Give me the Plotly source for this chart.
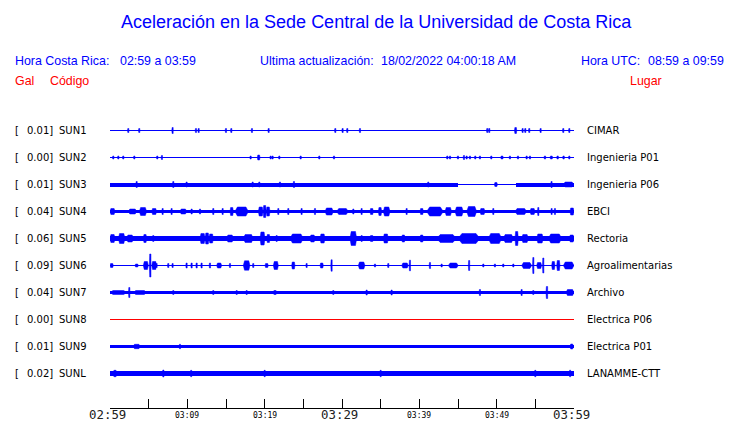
import plotly.graph_objects as go

# ---------------- data ----------------
STATIONS = ["SUN1", "SUN2", "SUN3", "SUN4", "SUN5", "SUN6", "SUN7", "SUN8", "SUN9", "SUNL"]
GAL = ["0.01", "0.00", "0.01", "0.04", "0.06", "0.09", "0.04", "0.00", "0.01", "0.02"]
PLACES = ["CIMAR", "Ingenieria P01", "Ingenieria P06", "EBCI", "Rectoria",
          "Agroalimentarias", "Archivo", "Electrica P06", "Electrica P01", "LANAMME-CTT"]
TRACE_COLORS = ["#0000ff"] * 7 + ["#ff0000"] + ["#0000ff"] * 2

# minutes after 02:59 for the axis ticks, and their labels
TICK_MIN = [0, 5, 10, 15, 20, 25, 30, 35, 40, 45, 50, 55, 60]
BIG_TICK_MIN = [0, 30, 60]
BIG_TICK_LABELS = ["02:59", "03:29", "03:59"]
SMALL_TICK_MIN = [10, 20, 40, 50]
SMALL_TICK_LABELS = ["03:09", "03:19", "03:39", "03:49"]

# band half-thickness (px) of each trace for 24 consecutive 2.5-minute segments
BAND_SUN1 = [0] * 24
BAND_SUN2 = [0] * 24
BAND_SUN3 = [2, 2, 2, 2, 2, 2, 2, 2, 2, 2, 2, 2, 2, 2, 2, 2, 2, 2, 0, 0, 0, 2, 2, 2]
BAND_SUN4 = [1.6, 1.5, 1.5, 1.5, 1.5, 1.5, 1.6, 1.6, 1.5, 1.5, 1.5, 1.5,
             1.5, 1.5, 1.6, 1.5, 1.6, 1.6, 1.6, 1.5, 1.5, 1.5, 1.5, 1.5]
BAND_SUN5 = [2.5, 2.4, 2.3, 2.3, 2.3, 2.4, 2.3, 2.4, 2.3, 2.4, 2.4, 2.3,
             2.3, 2.3, 2.3, 2.3, 2.5, 2.5, 2.5, 2.5, 2.4, 2.5, 2.5, 2.5]
BAND_SUN6 = [0] * 24
BAND_SUN7 = [1.8, 1.6, 1.5, 1.5, 1.5, 1.5, 1.5, 1.5, 1.5, 1.5, 1.5, 1.5,
             1.5, 1.5, 1.5, 1.5, 1.5, 1.5, 1.5, 1.5, 1.5, 1.5, 1.6, 1.6]
BAND_SUN8 = [0] * 24
BAND_SUN9 = [1.7] * 24
BAND_SUNL = [2.7, 2.8, 2.7, 2.7, 2.7, 2.7, 2.7, 2.7, 2.7, 2.7, 2.7, 2.7,
             2.7, 2.7, 2.7, 2.7, 2.7, 2.7, 2.7, 2.7, 2.7, 2.7, 2.7, 2.8]

# bursts: (start minute, end minute, half amplitude px)
BURST_SUN1 = [(2.37, 2.37, 2), (3.79, 3.79, 2), (8.10, 8.10, 3), (11.12, 11.12, 2),
              (11.47, 11.47, 2), (15.0, 15.0, 2), (15.69, 15.69, 2), (18.36, 18.36, 2),
              (20.52, 20.52, 2), (29.14, 29.14, 2), (30.0, 30.17, 2), (30.69, 30.69, 2),
              (32.33, 32.33, 2), (48.79, 48.79, 2), (49.05, 49.05, 2), (52.3, 52.6, 3),
              (53.36, 53.36, 2), (53.71, 53.71, 2), (54.22, 54.22, 2), (55.69, 55.69, 2),
              (58.62, 58.62, 2), (59.4, 59.4, 2)]
BURST_SUN2 = [(0.43, 0.43, 1.5), (1.08, 1.08, 1.5), (1.72, 1.72, 1.5), (3.15, 3.15, 1.5),
              (6.12, 6.12, 1.5), (6.72, 6.72, 2), (18.19, 18.19, 1.5), (19.05, 19.4, 2.5),
              (20.78, 20.78, 1.5), (21.03, 21.03, 1.5), (21.9, 21.9, 1.5), (24.66, 24.66, 1.5),
              (27.07, 27.07, 1.5), (28.97, 28.97, 1.5), (43.62, 43.62, 1.5), (43.97, 43.97, 1.5),
              (44.91, 45.09, 1.5), (45.69, 45.86, 2), (46.12, 46.12, 1.5), (46.55, 46.55, 1.5),
              (47.24, 47.24, 1.5), (47.84, 47.84, 1.5), (49.31, 49.31, 1.5), (50.52, 50.86, 1.5),
              (51.72, 51.72, 1.5), (52.76, 52.76, 1.5), (53.88, 53.88, 1.5), (54.31, 54.31, 1.5),
              (56.12, 56.38, 1.5), (56.9, 57.24, 1.5), (57.76, 58.02, 1.5), (58.53, 58.79, 1.5),
              (59.4, 59.4, 1.5)]
BURST_SUN3 = [(3.45, 3.45, 3), (8.19, 8.19, 3), (9.91, 9.91, 2.5), (18.45, 18.45, 2.5),
              (19.31, 19.31, 2.5), (21.98, 21.98, 2.5), (23.79, 23.79, 3), (41.16, 41.16, 2.5),
              (49.7, 50.1, 2), (57.1, 57.1, 3), (58.6, 60, 2.5)]
BURST_SUN4 = [(0, 0.65, 3), (2.37, 3.45, 2.5), (3.79, 4.74, 4), (5.39, 6.03, 3), (6.81, 6.81, 3),
              (7.97, 7.97, 3), (9.05, 9.91, 2.5), (10.56, 10.56, 2.5), (11.64, 11.64, 2.5),
              (13.36, 13.36, 3), (14.57, 14.57, 3), (15.52, 15.95, 4), (16.16, 17.89, 4.5),
              (19.18, 19.8, 4.5), (19.8, 20.2, 6), (20.2, 20.69, 4.5), (21.77, 21.77, 3),
              (23.06, 23.06, 3), (24.78, 24.78, 3), (26.51, 26.51, 3), (27.8, 28.88, 3.5),
              (29.31, 30.82, 3), (31.47, 31.47, 2.5), (32.54, 32.54, 3), (33.62, 34.05, 3),
              (34.7, 35.13, 4), (35.34, 36.21, 4.5), (38.36, 38.36, 3), (40.09, 40.52, 3),
              (40.95, 43.1, 4.5), (43.32, 44.18, 4), (44.61, 45.69, 4.5), (46.12, 47.41, 5),
              (47.84, 48.49, 3), (49.57, 49.57, 3), (52.37, 53.88, 3), (54.31, 54.96, 3),
              (55.39, 55.39, 4), (57.11, 57.11, 3), (57.54, 57.54, 3), (59.48, 60, 3.5)]
BURST_SUN5 = [(0, 0.65, 4), (1.08, 1.94, 5), (2.16, 3.02, 3.5), (4.31, 4.74, 4), (5.6, 5.6, 3),
              (11.64, 12.3, 5), (12.3, 12.8, 5.5), (12.8, 13.36, 4.5), (15.09, 15.95, 3.5),
              (17.24, 18.53, 4), (19.4, 20.04, 6.5), (20.26, 20.69, 4), (21.55, 21.55, 3),
              (23.28, 25.0, 4.5), (25.86, 26.51, 3.5), (27.16, 27.8, 4.5), (31.03, 31.9, 7),
              (32.54, 32.54, 3), (33.62, 34.05, 3), (35.34, 35.99, 4.5), (37.72, 38.15, 3.5),
              (40.09, 40.52, 3.5), (42.24, 44.8, 4), (45.0, 47.84, 5), (48.92, 50.65, 5),
              (50.86, 52.16, 4), (52.37, 52.8, 7), (53.23, 54.09, 4), (55.17, 56.03, 4.5),
              (56.68, 58.41, 4.5), (59.4, 60, 3.5)]
BURST_SUN6 = [(0, 0.43, 2), (3.23, 3.66, 1.5), (4.31, 4.96, 4), (5.09, 5.34, 11.5),
              (5.39, 6.03, 4), (6.03, 6.03, 2), (7.54, 7.54, 2), (8.1, 8.1, 2), (9.91, 9.91, 2.5),
              (10.56, 10.56, 2.5), (11.21, 11.21, 2.5), (11.85, 11.85, 2.5), (12.93, 12.93, 2.5),
              (13.79, 14.44, 2.5), (15.52, 15.52, 2), (17.24, 18.1, 4.7), (18.53, 18.53, 2),
              (20.04, 20.47, 2), (21.12, 21.77, 4), (23.49, 23.92, 3.5), (25.43, 25.43, 2),
              (27.16, 27.59, 2.5), (28.66, 28.66, 5.7), (32.11, 32.97, 3.5), (34.27, 34.27, 1.5),
              (35.99, 35.99, 2), (37.72, 38.58, 2.5), (38.79, 38.79, 5.3), (41.38, 41.38, 3),
              (42.89, 42.89, 1.5), (43.75, 45.04, 2.5), (46.34, 46.55, 5), (48.28, 48.28, 1.5),
              (49.78, 49.78, 1.5), (50.86, 50.86, 1.5), (52.16, 52.16, 1.5), (53.23, 54.53, 3),
              (54.66, 54.83, 8), (55.17, 55.82, 3), (55.95, 56.12, 7.5), (57.11, 57.54, 4),
              (57.76, 58.19, 5), (58.62, 60, 3.5)]
BURST_SUN7 = [(0, 2.16, 2), (2.41, 2.59, 5), (3.02, 4.74, 2), (8.19, 8.19, 2), (13.36, 13.36, 2),
              (16.38, 16.38, 2), (17.67, 17.67, 2), (21.12, 21.55, 2), (28.88, 28.88, 2),
              (33.19, 33.19, 2.5), (36.42, 36.42, 2.5), (47.84, 47.84, 3), (53.23, 53.23, 3),
              (54.74, 54.74, 2), (56.38, 56.64, 6), (58.97, 60, 3)]
BURST_SUN8 = []
BURST_SUN9 = [(3.0, 3.9, 2.2), (9.05, 9.05, 2.2), (59.5, 59.9, 2.5)]
BURST_SUNL = [(0.43, 0.86, 3.2), (6.9, 6.9, 3.5), (10.5, 10.5, 3.2), (20.0, 20.0, 3.2),
              (35.0, 35.0, 3.2), (55.0, 55.0, 3.2), (59.5, 59.5, 3.3)]

BANDS = [BAND_SUN1, BAND_SUN2, BAND_SUN3, BAND_SUN4, BAND_SUN5,
         BAND_SUN6, BAND_SUN7, BAND_SUN8, BAND_SUN9, BAND_SUNL]
BURSTS = [BURST_SUN1, BURST_SUN2, BURST_SUN3, BURST_SUN4, BURST_SUN5,
          BURST_SUN6, BURST_SUN7, BURST_SUN8, BURST_SUN9, BURST_SUNL]

# ---------------- layout geometry (pixels) ----------------
W, H = 740, 423
L, R, T, B = 110, 574, 116, 408
ROW0, ROW_PX = 130.5, 27
SPAN = 60.0
SEG = SPAN / 24
MIN_W = 0.22      # minutes, narrowest spike
RAMP = 0.18       # fraction of a burst spent rising / falling

y_top = -(ROW0 - T) / ROW_PX
y_bot = (B - ROW0) / ROW_PX

fig = go.Figure()

# center lines
for i, st in enumerate(STATIONS):
    fig.add_trace(go.Scatter(x=[0, SPAN], y=[i, i], mode="lines",
                             line=dict(color=TRACE_COLORS[i], width=1),
                             hoverinfo="skip", showlegend=False))

# bands as bars
bx, bw, bbase, bh, bc = [], [], [], [], []
for i in range(len(STATIONS)):
    for k, a in enumerate(BANDS[i]):
        if a > 0.5:
            bx.append(k * SEG + SEG / 2)
            bw.append(SEG)
            bbase.append(i - a / ROW_PX)
            bh.append(2 * a / ROW_PX)
            bc.append(TRACE_COLORS[i])
fig.add_trace(go.Bar(x=bx, y=bh, base=bbase, width=bw,
                     marker=dict(color=bc, line=dict(width=0)),
                     hoverinfo="skip", showlegend=False))

# bursts as filled spindles
for i in range(len(STATIONS)):
    px, py = [], []
    for (t0, t1, a) in BURSTS[i]:
        if t1 - t0 < MIN_W:
            c = (t0 + t1) / 2
            t0, t1 = c - MIN_W / 2, c + MIN_W / 2
        r = (t1 - t0) * RAMP
        d = a / ROW_PX
        px += [t0, t0 + r, t1 - r, t1, t1 - r, t0 + r, t0, None]
        py += [i, i - d, i - d, i, i + d, i + d, i, None]
    if px:
        fig.add_trace(go.Scatter(x=px, y=py, mode="lines", fill="toself",
                                 fillcolor=TRACE_COLORS[i],
                                 line=dict(color=TRACE_COLORS[i], width=0.5),
                                 hoverinfo="skip", showlegend=False))


def ann(text, x, y, size, color, family, xanchor="left", yanchor="middle"):
    fig.add_annotation(text=text, xref="paper", yref="paper",
                       x=(x - L) / (R - L), y=(B - y) / (B - T),
                       xanchor=xanchor, yanchor=yanchor, showarrow=False,
                       borderpad=0,
                       font=dict(size=size, color=color, family=family))


HDR = "Liberation Sans, Arial, sans-serif"
LBL = "DejaVu Sans, sans-serif"
MONO = "DejaVu Sans Mono, monospace"
BLUE = "#0000ff"
RED = "#ff0000"

ann("Aceleración en la Sede Central de la Universidad de Costa Rica", 376, 22, 18, BLUE, HDR, "center")
ann("Hora Costa Rica:", 14, 61, 12.4, BLUE, HDR)
ann("02:59 a 03:59", 119, 61, 12.4, BLUE, HDR)
ann("Ultima actualización:", 259, 61, 12.4, BLUE, HDR)
ann("18/02/2022 04:00:18 AM", 380, 61, 12.4, BLUE, HDR)
ann("Hora UTC:", 580, 61, 12.4, BLUE, HDR)
ann("08:59 a 09:59", 725, 61, 12.4, BLUE, HDR, "right")
ann("Gal", 14, 81, 12.4, RED, HDR)
ann("Código", 49, 81, 12.4, RED, HDR)
ann("Lugar", 663, 81, 12.4, RED, HDR, "right")

for i, st in enumerate(STATIONS):
    y = ROW0 + i * ROW_PX
    ann("[", 14, y, 10, "black", LBL)
    ann(GAL[i] + "]", 54, y, 10, "black", LBL, "right")
    ann(st, 58, y, 10, "black", LBL)
    ann(PLACES[i], 586, y, 10, "black", LBL)

px_per_min = (R - L) / SPAN
for m, lab in zip(BIG_TICK_MIN, BIG_TICK_LABELS):
    ann(lab, L + m * px_per_min - 3, 423, 12.4, "#202020", MONO, "center", "bottom")
for m, lab in zip(SMALL_TICK_MIN, SMALL_TICK_LABELS):
    ann(lab, L + m * px_per_min, 415, 8, "black", MONO, "center")

fig.update_layout(
    width=W, height=H, autosize=False,
    margin=dict(l=L, r=W - R, t=T, b=H - B, pad=0),
    paper_bgcolor="white", plot_bgcolor="white",
    barmode="overlay", bargap=0, showlegend=False,
    xaxis=dict(range=[0, SPAN], tickmode="array", tickvals=TICK_MIN,
               showticklabels=False, ticks="inside", ticklen=9, tickwidth=1,
               tickcolor="black", showline=True, linecolor="black", linewidth=1,
               showgrid=False, zeroline=False, fixedrange=True),
    yaxis=dict(range=[y_bot, y_top], visible=False, fixedrange=True),
)

fig.write_html("out.html", config={"displayModeBar": False},
               post_script="document.body.style.margin='0';document.body.style.padding='0';")
